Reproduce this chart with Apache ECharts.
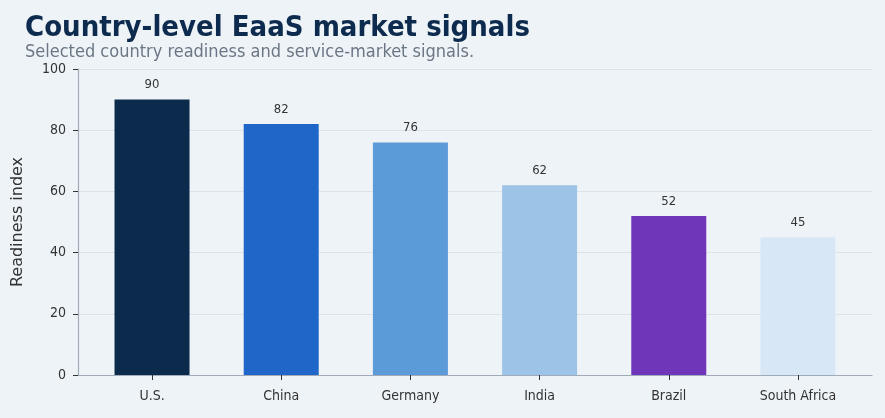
<!DOCTYPE html>
<html style="height: 100%">
<head>
    <meta charset="utf-8">
    <script src="https://cdn.jsdelivr.net/npm/echarts@6/dist/echarts.min.js"></script>
    <title>Country-level EaaS market signals</title>
</head>
<body style="height: 100%; margin: 0; background: #eef3f8">
<div id="container" style="width: 885px; height: 418px"></div>
<script type="text/javascript">
    // data
    let countries = ["U.S.", "China", "Germany", "India", "Brazil", "South Africa"]
    let readiness = [90, 82, 76, 62, 52, 45]
    let barColors = ["#0b2a4c", "#2065c8", "#5b9bd7", "#9dc3e7", "#6f36b9", "#d8e7f5"]
    let yTicks = [0, 20, 40, 60, 80, 100]
    let slots = countries.map((c, i) => i)

    let font = "'DejaVu Sans Condensed', 'DejaVu Sans'"
    let chart = echarts.init(document.getElementById("container"))
    chart.setOption({
        backgroundColor: "#eef3f8",
        animation: false,
        title: {
            text: "Country-level EaaS market signals",
            subtext: "Selected country readiness and service-market signals.",
            left: 20,
            top: 9,
            itemGap: 0,
            textStyle: {fontFamily: font, fontSize: 29, fontWeight: "bold", color: "#0d2b4e"},
            subtextStyle: {fontFamily: font, fontSize: 18, color: "#6b7785"}
        },
        grid: {left: 78, right: 13, top: 69, bottom: 43},
        xAxis: {
            type: "value",
            min: -0.573,
            max: 5.573,
            splitLine: {show: false},
            axisLine: {onZero: false, lineStyle: {color: "#a0aab8", width: 1.2}},
            axisTick: {customValues: slots, length: 5, lineStyle: {color: "#333"}},
            axisLabel: {
                customValues: slots,
                formatter: v => countries[Math.round(v)],
                fontFamily: font, fontSize: 14, color: "#333", margin: 14
            }
        },
        yAxis: {
            type: "value",
            min: yTicks[0],
            max: yTicks[yTicks.length - 1],
            interval: 20,
            name: "Readiness index",
            nameLocation: "middle",
            nameGap: 52,
            nameTextStyle: {fontFamily: "DejaVu Sans", fontSize: 16, color: "#333"},
            axisLine: {show: true, onZero: false, lineStyle: {color: "#a0aab8", width: 1.2}},
            axisTick: {show: true, length: 5, lineStyle: {color: "#333"}},
            axisLabel: {fontFamily: font, fontSize: 14, color: "#333", margin: 12},
            splitLine: {lineStyle: {color: "#dce3ea"}}
        },
        series: [{
            type: "bar",
            barWidth: 75,
            data: readiness.map((v, i) => ({value: [i, v], itemStyle: {color: barColors[i]}})),
            label: {
                show: true,
                position: "top",
                distance: 8,
                formatter: p => p.value[1],
                fontFamily: font,
                fontSize: 13,
                color: "#333"
            }
        }]
    })
</script>
</body>
</html>
